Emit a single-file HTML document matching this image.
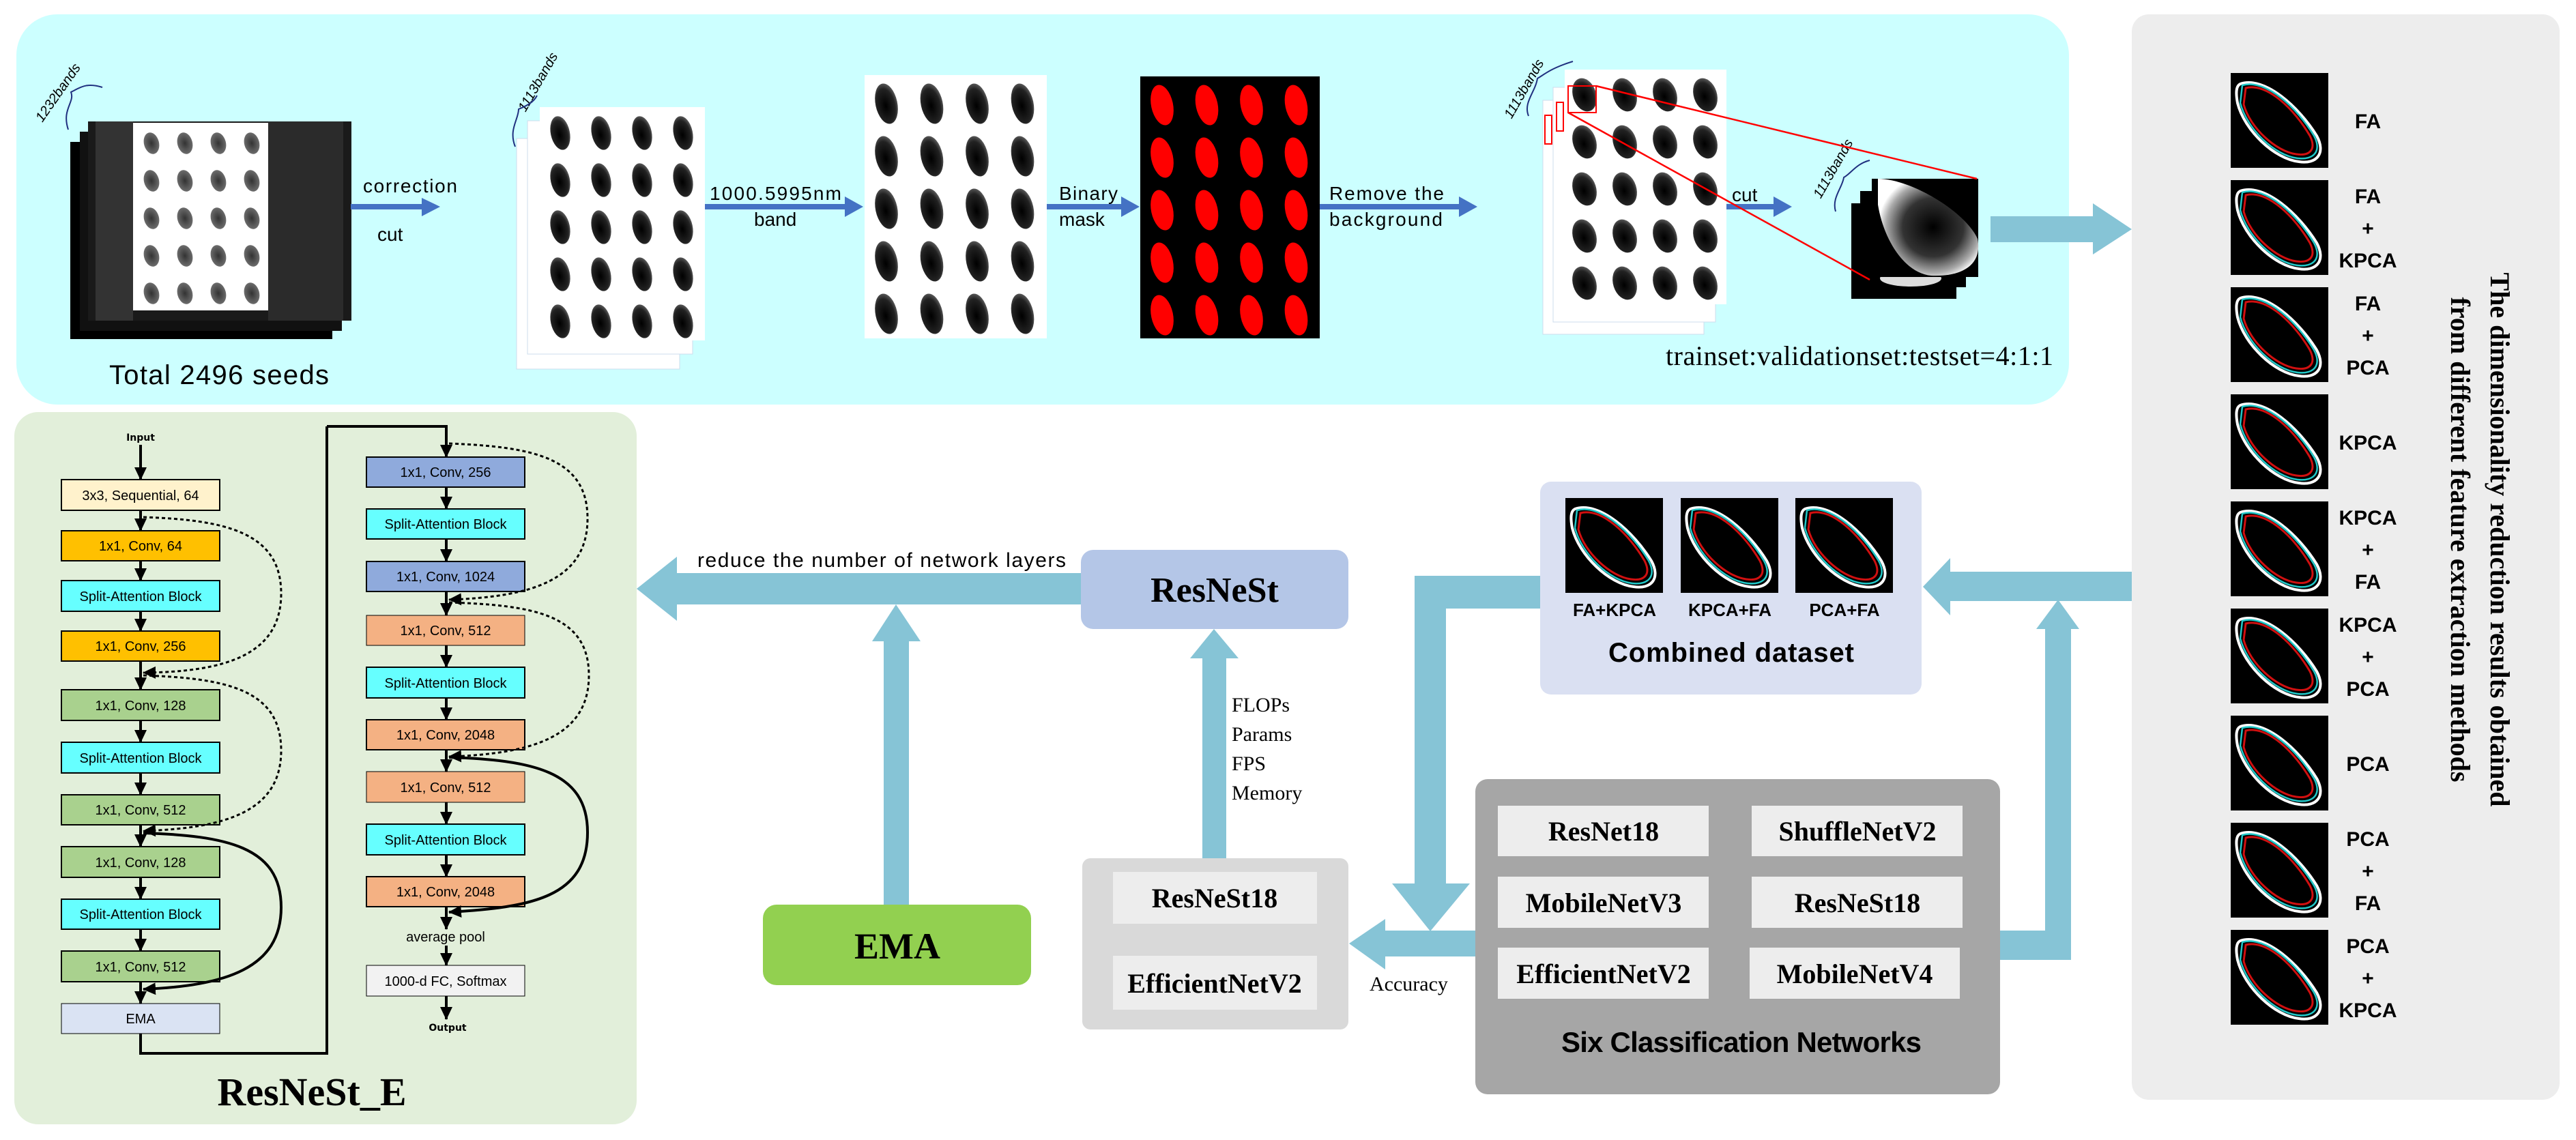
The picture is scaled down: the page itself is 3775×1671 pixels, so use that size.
<!DOCTYPE html>
<html><head><meta charset="utf-8"><style>html,body{margin:0;padding:0;background:#fff}svg{display:block}</style></head>
<body>
<svg xmlns="http://www.w3.org/2000/svg" width="3775" height="1671" viewBox="0 0 3775 1671">
<defs>
<radialGradient id="gs" cx="0.45" cy="0.55" r="0.6"><stop offset="0" stop-color="#000"/><stop offset="0.7" stop-color="#222"/><stop offset="1" stop-color="#666"/></radialGradient>
<radialGradient id="gs1" cx="0.5" cy="0.5" r="0.6"><stop offset="0" stop-color="#333"/><stop offset="1" stop-color="#777"/></radialGradient>
<pattern id="p1" patternUnits="userSpaceOnUse" x="198" y="183" width="49" height="55"><ellipse cx="24" cy="27" rx="11" ry="16" fill="url(#gs1)" transform="rotate(-15 24 27)"/></pattern>
<pattern id="p2" patternUnits="userSpaceOnUse" x="793" y="160" width="60" height="69"><ellipse cx="28" cy="35" rx="14" ry="25" fill="url(#gs)" transform="rotate(-12 28 35)"/></pattern>
<pattern id="p3" patternUnits="userSpaceOnUse" x="1267" y="112" width="66.5" height="77"><ellipse cx="32" cy="40" rx="16" ry="30" fill="url(#gs)" transform="rotate(-12 32 40)"/></pattern>
<pattern id="p4" patternUnits="userSpaceOnUse" x="1671" y="114" width="65.5" height="77"><ellipse cx="32" cy="40" rx="16" ry="30" fill="#ff0000" transform="rotate(-12 32 40)"/></pattern>
<pattern id="p5" patternUnits="userSpaceOnUse" x="2293" y="104" width="59" height="69"><ellipse cx="29" cy="35" rx="17" ry="25" fill="url(#gs)" transform="rotate(-18 29 35)"/></pattern>
<radialGradient id="gbig" cx="0.55" cy="0.5" r="0.55"><stop offset="0" stop-color="#000"/><stop offset="0.55" stop-color="#333"/><stop offset="0.85" stop-color="#aaa"/><stop offset="1" stop-color="#fff"/></radialGradient>
<g id="os">
<rect width="143" height="139" fill="#000"/>
<path d="M14,16 C50,4 100,50 126,92 C140,118 126,134 100,130 C64,126 20,84 10,44 C7,28 8,19 14,16 Z" fill="none" stroke="#fff" stroke-width="4"/>
<path d="M17,18 C52,8 98,52 122,92 C134,114 122,128 98,125 C64,121 24,82 14,44 Z" fill="none" stroke="#21c8c8" stroke-width="2.5"/>
<path d="M22,22 C54,14 94,54 116,92 C126,112 116,122 96,119 C66,115 28,80 19,46 Z" fill="none" stroke="#d01010" stroke-width="3"/>
</g>
<marker id="ah" markerUnits="userSpaceOnUse" markerWidth="20" markerHeight="20" refX="18" refY="10" orient="auto"><path d="M0,1 L19,10 L0,19 Z" fill="#000"/></marker>
</defs>

<rect x="24" y="21" width="3008" height="572" rx="60" fill="#ccffff"/>
<rect x="103" y="208" width="384" height="289" fill="#000"/>
<rect x="117" y="193" width="384" height="292" fill="#111"/>
<rect x="129" y="178" width="386" height="292" fill="#1a1a1a"/>
<rect x="140" y="178" width="55" height="292" fill="#333"/>
<rect x="393" y="178" width="110" height="292" fill="#2b2b2b"/>
<rect x="195" y="180" width="198" height="275" fill="#fff"/>
<rect x="195" y="180" width="198" height="275" fill="url(#p1)"/>
<text x="160" y="563" font-family="Liberation Sans, sans-serif" font-size="40" textLength="322">Total 2496 seeds</text>
<text transform="translate(62,180) rotate(-55)" font-family="Liberation Sans, sans-serif" font-style="italic" font-size="20">1232bands</text>
<path d="M100,190 C90,160 110,150 104,135 C115,130 125,120 150,128" fill="none" stroke="#1f2f7f" stroke-width="2"/>

<g fill="#4472c4">
<rect x="514" y="299" width="106" height="8"/><polygon points="618,290 645,303 618,317"/>
<rect x="1033" y="299" width="208" height="8"/><polygon points="1238,288 1265,303 1238,318"/>
<rect x="1534" y="299" width="112" height="8"/><polygon points="1643,288 1670,303 1643,318"/>
<rect x="1934" y="299" width="207" height="8"/><polygon points="2138,288 2165,303 2138,318"/>
<rect x="2530" y="299" width="72" height="8"/><polygon points="2599,288 2626,303 2599,318"/>
</g>
<g font-family="Liberation Sans Narrow, Liberation Sans, sans-serif" font-size="28">
<text x="532" y="282" textLength="138">correction</text>
<text x="553" y="353">cut</text>
<text x="1040" y="293" textLength="193">1000.5995nm</text>
<text x="1105" y="331">band</text>
<text x="1552" y="293" textLength="86">Binary</text>
<text x="1552" y="331">mask</text>
<text x="1948" y="293" textLength="168">Remove the</text>
<text x="1948" y="331" textLength="166">background</text>
<text x="2538" y="295">cut</text>
</g>
<rect x="757" y="203" width="239" height="338" fill="#fff" stroke="#cde" stroke-width="1"/>
<rect x="773" y="177" width="242" height="342" fill="#fff" stroke="#cde" stroke-width="1"/>
<rect x="791" y="157" width="242" height="342" fill="#fff"/>
<rect x="791" y="157" width="242" height="342" fill="url(#p2)"/>
<text transform="translate(770,165) rotate(-60)" font-family="Liberation Sans, sans-serif" font-style="italic" font-size="20">1113bands</text>
<path d="M755,215 C745,190 760,175 760,160 C772,155 782,150 787,140" fill="none" stroke="#1f2f7f" stroke-width="2"/>
<rect x="1267" y="110" width="267" height="386" fill="#fff"/>
<rect x="1267" y="110" width="267" height="386" fill="url(#p3)"/>
<rect x="1671" y="112" width="263" height="384" fill="#000"/>
<rect x="1671" y="112" width="263" height="384" fill="url(#p4)"/>
<rect x="2261" y="147" width="236" height="343" fill="#fff" stroke="#cde"/>
<rect x="2276" y="128" width="238" height="344" fill="#fff" stroke="#cde"/>
<rect x="2293" y="102" width="237" height="344" fill="#fff"/>
<rect x="2293" y="102" width="237" height="344" fill="url(#p5)"/>
<rect x="2264" y="169" width="10" height="42" fill="none" stroke="#f00" stroke-width="2"/>
<rect x="2281" y="150" width="10" height="42" fill="none" stroke="#f00" stroke-width="2"/>
<rect x="2298" y="126" width="41" height="39" fill="none" stroke="#f00" stroke-width="2"/>
<text transform="translate(2215,175) rotate(-60)" font-family="Liberation Sans, sans-serif" font-style="italic" font-size="20">1113bands</text>
<path d="M2240,170 C2232,150 2250,135 2253,115 C2262,110 2272,100 2305,90" fill="none" stroke="#1f2f7f" stroke-width="2"/>
<rect x="2713" y="298" width="154" height="140" fill="#000"/>
<rect x="2726" y="280" width="155" height="141" fill="#000"/>
<ellipse cx="2800" cy="408" rx="45" ry="12" fill="#ddd"/>
<rect x="2743" y="262" width="156" height="144" fill="#000"/>
<path d="M2752,262 C2800,262 2880,310 2898,350 C2905,385 2880,406 2830,404 C2790,400 2760,350 2752,300 Z" fill="url(#gbig)"/>
<text transform="translate(2668,292) rotate(-60)" font-family="Liberation Sans, sans-serif" font-style="italic" font-size="20">1113bands</text>
<path d="M2690,310 C2684,290 2700,275 2702,260 C2712,255 2720,240 2740,235" fill="none" stroke="#1f2f7f" stroke-width="2"/>
<line x1="2339" y1="126" x2="2897" y2="262" stroke="#f00" stroke-width="2.5"/>
<line x1="2298" y1="165" x2="2740" y2="410" stroke="#f00" stroke-width="2.5"/>
<text x="2441" y="535" font-family="Liberation Serif, serif" font-size="40" textLength="568">trainset:validationset:testset=4:1:1</text>

<rect x="3124" y="21" width="627" height="1591" rx="25" fill="#ededed"/>
<g>
<use href="#os" x="3269" y="107"/><use href="#os" x="3269" y="264"/><use href="#os" x="3269" y="421"/>
<use href="#os" x="3269" y="578"/><use href="#os" x="3269" y="735"/><use href="#os" x="3269" y="892"/>
<use href="#os" x="3269" y="1049"/><use href="#os" x="3269" y="1206"/><use href="#os" x="3269" y="1363"/>
</g>
<g font-family="Liberation Sans, sans-serif" font-weight="bold" font-size="30" text-anchor="middle">
<text x="3470" y="188">FA</text>
<text x="3470" y="298">FA</text><text x="3470" y="345">+</text><text x="3470" y="392">KPCA</text>
<text x="3470" y="455">FA</text><text x="3470" y="502">+</text><text x="3470" y="549">PCA</text>
<text x="3470" y="659">KPCA</text>
<text x="3470" y="769">KPCA</text><text x="3470" y="816">+</text><text x="3470" y="863">FA</text>
<text x="3470" y="926">KPCA</text><text x="3470" y="973">+</text><text x="3470" y="1020">PCA</text>
<text x="3470" y="1130">PCA</text>
<text x="3470" y="1240">PCA</text><text x="3470" y="1287">+</text><text x="3470" y="1334">FA</text>
<text x="3470" y="1397">PCA</text><text x="3470" y="1444">+</text><text x="3470" y="1491">KPCA</text>
</g>
<g font-family="Liberation Serif, serif" font-weight="bold" font-size="40" text-anchor="middle">
<text transform="translate(3650,791) rotate(90)">The dimensionality reduction results obtained</text>
<text transform="translate(3592,791) rotate(90)">from different feature extraction methods</text>
</g>

<g fill="#86c4d6">
<polygon points="2917,317 3067,317 3067,298 3124,336 3067,373 3067,355 2917,355"/>
<rect x="992" y="840" width="594" height="46"/><polygon points="992,816 933,863 992,910"/>
<rect x="1295" y="938" width="37" height="390"/><polygon points="1278,940 1313,886 1349,940"/>
<rect x="1762" y="963" width="35" height="297"/><polygon points="1744,965 1779,922 1815,965"/>
<rect x="2073" y="844" width="186" height="48"/><rect x="2073" y="844" width="46" height="453"/><polygon points="2040,1295 2096,1365 2154,1295"/>
<rect x="2028" y="1364" width="136" height="38"/><polygon points="2030,1347 1977,1383 2030,1421"/>
<rect x="2929" y="1364" width="106" height="43"/><rect x="2997" y="920" width="38" height="487"/><polygon points="2984,922 3016,879 3047,922"/>
<rect x="2856" y="838" width="268" height="43"/><polygon points="2858,818 2818,860 2858,902"/>
</g>
<text x="1022" y="831" font-family="Liberation Sans, sans-serif" font-size="30" textLength="540">reduce the number of network layers</text>

<rect x="1584" y="806" width="392" height="116" rx="18" fill="#b4c6e7"/>
<text x="1780" y="882" text-anchor="middle" font-family="Liberation Serif, serif" font-weight="bold" font-size="52">ResNeSt</text>
<rect x="1118" y="1326" width="393" height="118" rx="20" fill="#92d050"/>
<text x="1315" y="1405" text-anchor="middle" font-family="Liberation Serif, serif" font-weight="bold" font-size="54">EMA</text>
<g font-family="Liberation Serif, serif" font-size="30">
<text x="1805" y="1043">FLOPs</text><text x="1805" y="1086">Params</text><text x="1805" y="1129">FPS</text><text x="1805" y="1172">Memory</text>
<text x="2007" y="1452">Accuracy</text>
</g>
<rect x="1586" y="1258" width="390" height="251" rx="12" fill="#d9d9d9"/>
<rect x="1631" y="1278" width="299" height="76" fill="#ededed"/>
<rect x="1631" y="1401" width="299" height="79" fill="#ededed"/>
<g font-family="Liberation Serif, serif" font-weight="bold" font-size="40" text-anchor="middle">
<text x="1780" y="1330">ResNeSt18</text><text x="1780" y="1455">EfficientNetV2</text>
</g>
<rect x="2257" y="706" width="559" height="312" rx="16" fill="#dae0f2"/>
<use href="#os" transform="translate(2294,730)"/>
<use href="#os" transform="translate(2463,730)"/>
<use href="#os" transform="translate(2631,730)"/>
<g font-family="Liberation Sans Narrow, Liberation Sans, sans-serif" font-weight="bold" font-size="26" text-anchor="middle">
<text x="2366" y="903">FA+KPCA</text><text x="2535" y="903">KPCA+FA</text><text x="2703" y="903">PCA+FA</text>
</g>
<text x="2537" y="970" text-anchor="middle" font-family="Liberation Sans, sans-serif" font-weight="bold" font-size="40" textLength="360">Combined dataset</text>
<rect x="2162" y="1142" width="769" height="462" rx="18" fill="#a6a6a6"/>
<g fill="#ededed">
<rect x="2195" y="1181" width="309" height="74"/><rect x="2567" y="1181" width="309" height="74"/>
<rect x="2195" y="1285" width="309" height="75"/><rect x="2567" y="1285" width="309" height="75"/>
<rect x="2195" y="1389" width="309" height="75"/><rect x="2564" y="1389" width="308" height="75"/>
</g>
<g font-family="Liberation Serif, serif" font-weight="bold" font-size="40" text-anchor="middle">
<text x="2350" y="1232">ResNet18</text><text x="2722" y="1232">ShuffleNetV2</text>
<text x="2350" y="1337">MobileNetV3</text><text x="2722" y="1337">ResNeSt18</text>
<text x="2350" y="1441">EfficientNetV2</text><text x="2718" y="1441">MobileNetV4</text>
</g>
<text x="2288" y="1542" font-family="Liberation Sans, sans-serif" font-weight="bold" font-size="42" textLength="528">Six Classification Networks</text>

<rect x="21" y="604" width="912" height="1044" rx="35" fill="#e2efda"/>
<g stroke="#000" stroke-width="2">
<rect x="90" y="703" width="232" height="45" fill="#fff2cc"/>
<rect x="90" y="778" width="232" height="44" fill="#ffc000"/>
<rect x="90" y="851" width="232" height="45" fill="#66ffff"/>
<rect x="90" y="925" width="232" height="44" fill="#ffc000"/>
<rect x="90" y="1011" width="232" height="45" fill="#a9d18e"/>
<rect x="90" y="1088" width="232" height="45" fill="#66ffff"/>
<rect x="90" y="1165" width="232" height="44" fill="#a9d18e"/>
<rect x="90" y="1241" width="232" height="45" fill="#a9d18e"/>
<rect x="90" y="1318" width="232" height="44" fill="#66ffff"/>
<rect x="90" y="1394" width="232" height="45" fill="#a9d18e"/>
<rect x="90" y="1471" width="232" height="44" fill="#dae3f3" stroke-width="1"/>
<rect x="537" y="670" width="232" height="44" fill="#8faadc"/>
<rect x="537" y="746" width="232" height="44" fill="#66ffff"/>
<rect x="537" y="823" width="232" height="44" fill="#8faadc"/>
<rect x="537" y="902" width="232" height="44" fill="#f4b183" stroke-width="1"/>
<rect x="537" y="978" width="232" height="45" fill="#66ffff"/>
<rect x="537" y="1055" width="232" height="44" fill="#f4b183"/>
<rect x="537" y="1131" width="232" height="45" fill="#f4b183" stroke-width="1"/>
<rect x="537" y="1208" width="232" height="45" fill="#66ffff"/>
<rect x="537" y="1285" width="232" height="44" fill="#f4b183"/>
<rect x="537" y="1415" width="232" height="45" fill="#f2f2f2" stroke-width="1"/>
</g>
<g font-family="Liberation Sans, sans-serif" font-size="20" text-anchor="middle">
<text x="206" y="733">3x3, Sequential, 64</text>
<text x="206" y="807">1x1, Conv, 64</text>
<text x="206" y="881">Split-Attention Block</text>
<text x="206" y="954">1x1, Conv, 256</text>
<text x="206" y="1041">1x1, Conv, 128</text>
<text x="206" y="1118">Split-Attention Block</text>
<text x="206" y="1194">1x1, Conv, 512</text>
<text x="206" y="1271">1x1, Conv, 128</text>
<text x="206" y="1347">Split-Attention Block</text>
<text x="206" y="1424">1x1, Conv, 512</text>
<text x="206" y="1500">EMA</text>
<text x="653" y="699">1x1, Conv, 256</text>
<text x="653" y="775">Split-Attention Block</text>
<text x="653" y="852">1x1, Conv, 1024</text>
<text x="653" y="931">1x1, Conv, 512</text>
<text x="653" y="1008">Split-Attention Block</text>
<text x="653" y="1084">1x1, Conv, 2048</text>
<text x="653" y="1161">1x1, Conv, 512</text>
<text x="653" y="1238">Split-Attention Block</text>
<text x="653" y="1314">1x1, Conv, 2048</text>
<text x="653" y="1380">average  pool</text>
<text x="653" y="1445">1000-d FC, Softmax</text>
</g>
<g font-family="DejaVu Sans, sans-serif" font-weight="bold" font-size="14" text-anchor="middle">
<text x="206" y="646">Input</text><text x="656" y="1511">Output</text>
</g>
<g stroke="#000" stroke-width="4" fill="none" marker-end="url(#ah)">
<line x1="206" y1="652" x2="206" y2="703"/>
<line x1="206" y1="748" x2="206" y2="778"/>
<line x1="206" y1="822" x2="206" y2="851"/>
<line x1="206" y1="896" x2="206" y2="925"/>
<line x1="206" y1="969" x2="206" y2="1011"/>
<line x1="206" y1="1056" x2="206" y2="1088"/>
<line x1="206" y1="1133" x2="206" y2="1165"/>
<line x1="206" y1="1209" x2="206" y2="1241"/>
<line x1="206" y1="1286" x2="206" y2="1318"/>
<line x1="206" y1="1362" x2="206" y2="1394"/>
<line x1="206" y1="1439" x2="206" y2="1471"/>
<path d="M479,625 L654,625 L654,670"/>
<line x1="654" y1="714" x2="654" y2="746"/>
<line x1="654" y1="790" x2="654" y2="823"/>
<line x1="654" y1="867" x2="654" y2="902"/>
<line x1="654" y1="946" x2="654" y2="978"/>
<line x1="654" y1="1023" x2="654" y2="1055"/>
<line x1="654" y1="1099" x2="654" y2="1131"/>
<line x1="654" y1="1176" x2="654" y2="1208"/>
<line x1="654" y1="1253" x2="654" y2="1285"/>
<line x1="654" y1="1329" x2="654" y2="1362"/>
<line x1="654" y1="1386" x2="654" y2="1415"/>
<line x1="654" y1="1460" x2="654" y2="1494"/>
</g>
<path d="M206,1515 L206,1544 L479,1544 L479,625" stroke="#000" stroke-width="4" fill="none"/>
<g stroke="#000" stroke-width="3" fill="none" stroke-dasharray="5,4" marker-end="url(#ah)">
<path d="M210,758 C330,762 412,780 412,870 C412,960 330,985 210,986"/>
<path d="M210,990 C330,994 412,1010 412,1100 C412,1190 330,1214 210,1218"/>
<path d="M658,650 C780,655 861,670 861,760 C861,850 780,875 658,879"/>
<path d="M658,883 C780,887 863,900 863,990 C863,1080 780,1105 658,1109"/>
</g>
<g stroke="#000" stroke-width="4" fill="none" marker-end="url(#ah)">
<path d="M210,1221 C330,1225 412,1240 412,1330 C412,1420 330,1445 210,1450"/>
<path d="M658,1110 C780,1114 861,1130 861,1220 C861,1315 780,1330 658,1337"/>
</g>
<text x="457" y="1620" text-anchor="middle" font-family="Liberation Serif, serif" font-weight="bold" font-size="58">ResNeSt_E</text>
</svg>
</body></html>
